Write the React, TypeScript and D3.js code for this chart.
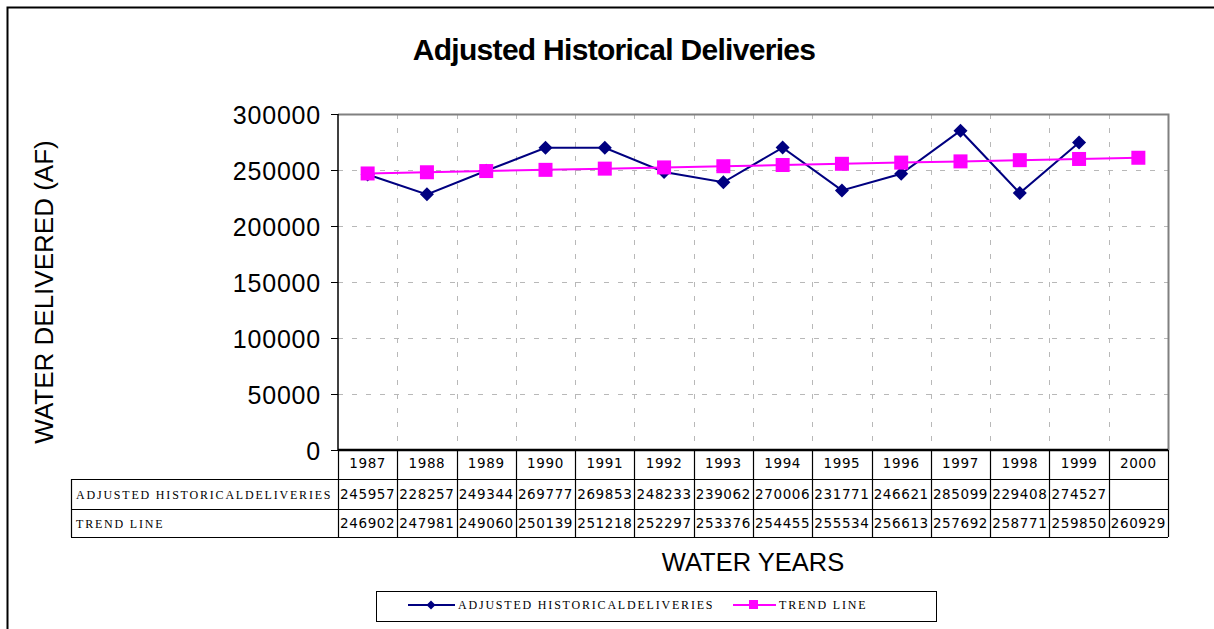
import * as d3 from "d3";
import React from "react";

const years = ["1987", "1988", "1989", "1990", "1991", "1992", "1993", "1994", "1995", "1996", "1997", "1998", "1999", "2000"];
const adjusted = [245957, 228257, 249344, 269777, 269853, 248233, 239062, 270006, 231771, 246621, 285099, 229408, 274527];
const trend = [246902, 247981, 249060, 250139, 251218, 252297, 253376, 254455, 255534, 256613, 257692, 258771, 259850, 260929];
const yTicks = [0, 50000, 100000, 150000, 200000, 250000, 300000];
const seriesNames = ["ADJUSTED HISTORICALDELIVERIES", "TREND LINE"];

const NAVY = "#000080";
const PINK = "#FF00FF";

const App = () => {
  const ref = React.useRef<SVGSVGElement>(null);

  React.useEffect(() => {
    const W = 1214, H = 629;
    const svg = d3.select(ref.current).attr("width", W).attr("height", H);
    svg.selectAll("*").remove();

    const plot = { left: 338, right: 1168, top: 114, bottom: 450 };
    const x = d3.scaleBand().domain(years).range([plot.left, plot.right]);
    const y = d3.scaleLinear().domain([0, 300000]).range([plot.bottom, plot.top]);
    const cx = (yr) => x(yr) + x.bandwidth() / 2;

    // outer frame
    svg.append("rect").attr("x", 0).attr("y", 0).attr("width", W).attr("height", H).attr("fill", "#fff");
    svg.append("path").attr("d", `M7.5,${H} V7.5 H${W}`).attr("fill", "none").attr("stroke", "#000").attr("stroke-width", 2);

    svg.append("text")
      .attr("x", 614).attr("y", 60)
      .attr("text-anchor", "middle")
      .style("font-family", "Arial, 'Liberation Sans', sans-serif")
      .style("font-weight", "bold").style("font-size", "30px")
      .style("letter-spacing", "-0.7px")
      .text("Adjusted Historical Deliveries");

    // grid
    const grid = svg.append("g").attr("stroke", "#b8b8b8").attr("stroke-dasharray", "5,9").attr("stroke-width", 1);
    yTicks.filter((t) => t > 0 && t < 300000).forEach((t) => {
      grid.append("line").attr("x1", plot.left).attr("x2", plot.right).attr("y1", Math.round(y(t)) + 0.5).attr("y2", Math.round(y(t)) + 0.5);
    });
    years.slice(1).forEach((yr) => {
      const gx = Math.round(x(yr)) + 0.5;
      grid.append("line").attr("x1", gx).attr("x2", gx).attr("y1", plot.top).attr("y2", plot.bottom);
    });

    // plot border (top/right gray)
    svg.append("path")
      .attr("d", `M${plot.left},${plot.top + 0.5} H${plot.right + 0.5} V${plot.bottom}`)
      .attr("fill", "none").attr("stroke", "#808080").attr("stroke-width", 2);

    // y axis
    const yAxis = d3.axisLeft(y).tickValues(yTicks).tickSize(7).tickPadding(10).tickFormat(d3.format("d"));
    const ya = svg.append("g").attr("transform", `translate(${plot.left},0)`).call(yAxis);
    ya.select(".domain").attr("stroke", "#000").attr("stroke-width", 1.5).attr("d", `M0,${plot.top}V${plot.bottom}`);
    ya.selectAll(".tick line").attr("stroke", "#000");
    ya.selectAll(".tick text")
      .attr("dy", "0.36em")
      .style("font-family", "Arial, 'Liberation Sans', sans-serif")
      .style("font-size", "25px").style("letter-spacing", "0.8px").attr("fill", "#000");

    svg.append("text")
      .attr("transform", `translate(53,292) rotate(-90)`)
      .attr("text-anchor", "middle")
      .style("font-family", "Arial, 'Liberation Sans', sans-serif")
      .style("font-size", "26px")
      .text("WATER DELIVERED (AF)");

    // data table
    const rows = [450, 479, 509, 537];
    const tableLeft = 71;
    const tbl = svg.append("g").attr("stroke", "#000").attr("stroke-width", 1.2);
    tbl.append("line").attr("x1", plot.left).attr("x2", plot.right).attr("y1", rows[0]).attr("y2", rows[0]).attr("stroke-width", 2.5);
    rows.slice(1).forEach((ry) => {
      tbl.append("line").attr("x1", tableLeft).attr("x2", plot.right).attr("y1", ry + 0.5).attr("y2", ry + 0.5);
    });
    tbl.append("line").attr("x1", tableLeft + 0.5).attr("x2", tableLeft + 0.5).attr("y1", rows[1]).attr("y2", rows[3]);
    [...years.map((yr) => x(yr)), plot.right].forEach((bx) => {
      tbl.append("line").attr("x1", Math.round(bx) + 0.5).attr("x2", Math.round(bx) + 0.5).attr("y1", rows[0]).attr("y2", rows[3]);
    });

    const cellFont = (sel) => sel
      .style("font-family", "'DejaVu Sans', sans-serif")
      .style("font-size", "13.5px").style("letter-spacing", "0.6px")
      .attr("text-anchor", "middle").attr("fill", "#000");

    svg.append("g").selectAll("text").data(years).enter().append("text")
      .attr("x", (d) => cx(d)).attr("y", 468).text((d) => d).call(cellFont);
    svg.append("g").selectAll("text").data(adjusted).enter().append("text")
      .attr("x", (d, i) => cx(years[i])).attr("y", 499).text((d) => d).call(cellFont);
    svg.append("g").selectAll("text").data(trend).enter().append("text")
      .attr("x", (d, i) => cx(years[i])).attr("y", 528).text((d) => d).call(cellFont);

    const labelFont = (sel) => sel
      .style("font-family", "'Liberation Serif', serif")
      .style("font-size", "12px").style("letter-spacing", "1.8px").attr("fill", "#000");
    svg.append("text").attr("x", 76).attr("y", 499).text(seriesNames[0]).call(labelFont);
    svg.append("text").attr("x", 76).attr("y", 528).text(seriesNames[1]).call(labelFont);

    svg.append("text")
      .attr("x", 753).attr("y", 571)
      .attr("text-anchor", "middle")
      .style("font-family", "Arial, 'Liberation Sans', sans-serif")
      .style("font-size", "25.5px")
      .text("WATER YEARS");

    // series
    const line = d3.line().x((d, i) => cx(years[i])).y((d) => y(d));
    svg.append("path").datum(adjusted).attr("d", line).attr("fill", "none").attr("stroke", NAVY).attr("stroke-width", 2);
    svg.append("path").datum(trend).attr("d", line).attr("fill", "none").attr("stroke", PINK).attr("stroke-width", 2);

    const diamond = (s) => `M0,${-s}L${s},0L0,${s}L${-s},0Z`;
    svg.append("g").selectAll("path").data(adjusted).enter().append("path")
      .attr("transform", (d, i) => `translate(${cx(years[i])},${y(d)})`)
      .attr("d", diamond(7)).attr("fill", NAVY);
    svg.append("g").selectAll("rect").data(trend).enter().append("rect")
      .attr("x", (d, i) => cx(years[i]) - 7).attr("y", (d) => y(d) - 7)
      .attr("width", 14).attr("height", 14).attr("fill", PINK);

    // legend
    const lg = svg.append("g");
    lg.append("rect").attr("x", 376.5).attr("y", 591.5).attr("width", 560).attr("height", 30)
      .attr("fill", "#fff").attr("stroke", "#000").attr("stroke-width", 1);
    lg.append("line").attr("x1", 408).attr("x2", 455).attr("y1", 605).attr("y2", 605).attr("stroke", NAVY).attr("stroke-width", 2);
    lg.append("path").attr("transform", "translate(431,605)").attr("d", diamond(4.5)).attr("fill", NAVY);
    lg.append("text").attr("x", 458).attr("y", 609).text(seriesNames[0]).call(labelFont);
    lg.append("line").attr("x1", 733).attr("x2", 776).attr("y1", 605).attr("y2", 605).attr("stroke", PINK).attr("stroke-width", 2);
    lg.append("rect").attr("x", 749).attr("y", 600).attr("width", 9).attr("height", 9).attr("fill", PINK);
    lg.append("text").attr("x", 779).attr("y", 609).text(seriesNames[1]).call(labelFont);
  }, []);

  return (
    <svg ref={ref} style={{ position: "absolute", left: 0, top: 0, display: "block" }}></svg>
  );
};

export default App;
